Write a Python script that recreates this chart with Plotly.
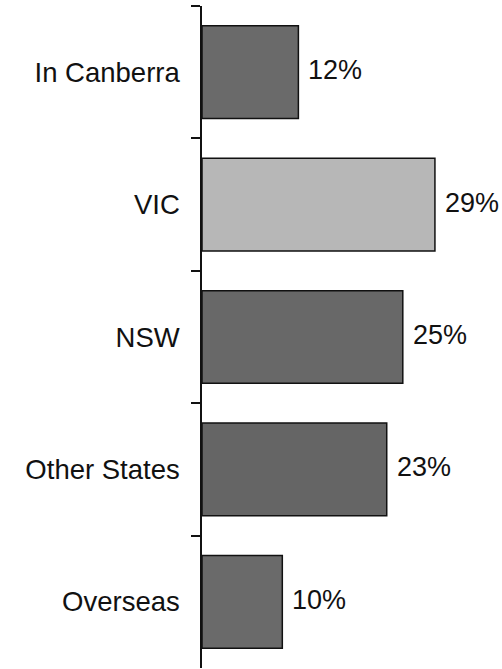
import plotly.graph_objects as go

# Share of respondents by location
categories = ["In Canberra", "VIC", "NSW", "Other States", "Overseas"]
shares = [12, 29, 25, 23, 10]
bar_colors = ["#6a6a6a", "#b7b7b7", "#686868", "#656565", "#6a6a6a"]

FONT = "Liberation Sans, Arial, sans-serif"

fig = go.Figure(
    go.Bar(
        x=shares,
        y=categories,
        orientation="h",
        marker=dict(color=bar_colors, line=dict(color="#111111", width=1.5)),
        width=0.7,
        hoverinfo="skip",
    )
)

# value labels to the right of each bar
for cat, val in zip(categories, shares):
    fig.add_annotation(
        x=val, y=cat, text=f"{val}%", showarrow=False,
        xanchor="left", yanchor="middle", xshift=8, yshift=2,
        font=dict(family=FONT, size=27, color="#111111"),
    )

fig.update_layout(
    width=502, height=669,
    margin=dict(l=202, r=0, t=6, b=1),
    paper_bgcolor="white", plot_bgcolor="white",
    showlegend=False,
    font=dict(family=FONT, size=27, color="#111111"),
)
fig.update_xaxes(
    range=[0, 37.35], visible=False, showgrid=False, zeroline=False,
)
fig.update_yaxes(
    categoryorder="array", categoryarray=categories,
    range=[4.5, -0.5], autorange=False,
    showline=True, linecolor="#111111", linewidth=1.5,
    ticks="outside", tickson="boundaries", ticklen=9, tickwidth=1.5,
    tickcolor="#111111", ticklabelstandoff=15,
    showgrid=False, zeroline=False,
    tickfont=dict(family=FONT, size=27.5, color="#111111"),
)

fig.write_html("out.html")
